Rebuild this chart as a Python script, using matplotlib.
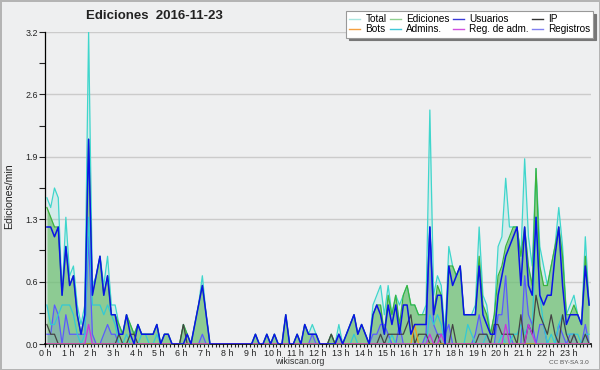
import numpy as np
import matplotlib
matplotlib.use('Agg')
import matplotlib.pyplot as plt
from matplotlib.ticker import MultipleLocator, FormatStrFormatter
from matplotlib.lines import Line2D

plt.rcParams['font.family'] = ['Liberation Sans', 'DejaVu Sans']

# 144 slots of 10 minutes, edits per minute
hours = ['%d h' % h for h in range(24)]
slots = np.arange(144)

total = [1.5,1.4,1.6,1.5,.5,1.3, .7,.8,.4,.2,.4,3.2, .6,.7,.9,.6,.9,.4, .4,.2,.1,.3,.2,.1,
         .2,.1,.1,.1,.1,.2, 0,.1,.1,0,0,0, .2,.1,0,.2,.4,.7, .3,0,0,0,0,0,
         0,0,0,0,0,0, 0,.1,0,0,.1,0, .1,0,0,.3,0,0, .1,0,.2,.1,.2,.1,
         0,0,0,.1,0,.2, 0,.1,.2,.3,.1,.2, .1,0,.4,.5,.6,.3, .6,.3,.5,.4,.5,.6,
         .4,.4,.3,.3,.4,2.4, .5,.7,.6,.1,1,.8, .7,.8,.3,.3,.3,.4, 1.2,.5,.4,.1,.3,1,
         1.1,1.7,1.2,1.2,1.2,.9, 1.9,1.1,.8,1.8,1,.8, .6,.8,1,1.4,1,.3, .4,.5,.3,.2,1.1,.4]
ediciones = [1.4,1.3,1.2,1.2,.5,1, .6,.7,.3,.1,.3,2.1, .5,.7,.9,.5,.7,.3, .3,.2,.1,.3,.2,.1,
             .2,.1,.1,.1,.1,.2, 0,.1,.1,0,0,0, .2,.1,0,.2,.4,.6, .3,0,0,0,0,0,
             0,0,0,0,0,0, 0,.1,0,0,.1,0, .1,0,0,.3,0,0, .1,0,.2,.1,.1,.1,
             0,0,0,.1,0,.1, 0,.1,.2,.3,.1,.2, .1,0,.3,.4,.4,.1, .5,.3,.5,.2,.5,.6,
             .4,.4,.3,.3,.3,1.2, .3,.6,.5,0,.8,.8, .7,.8,.3,.3,.3,.3, .9,.4,.3,.1,.3,.7,
             .8,1,1.1,1.2,1.2,.9, 1.2,.8,.6,1.8,.8,.6, .6,.8,1,1.2,.9,.3, .3,.4,.3,.2,.9,.4]
usuarios = [1.2,1.2,1.1,1.2,.5,1, .6,.7,.3,.1,.3,2.1, .5,.7,.9,.5,.7,.3, .3,.1,.1,.3,.1,0,
            .2,.1,.1,.1,.1,.2, 0,.1,.1,0,0,0, 0,.1,0,.2,.4,.6, .3,0,0,0,0,0,
            0,0,0,0,0,0, 0,.1,0,0,.1,0, .1,0,0,.3,0,0, .1,0,.2,.1,.1,.1,
            0,0,0,0,0,.1, 0,.1,.2,.3,.1,.2, .1,0,.3,.4,.3,.1, .4,.2,.4,.1,.4,.4,
            .1,.2,.2,.2,.2,1.2, .3,.5,.5,0,.8,.6, .7,.8,.3,.3,.3,.3, .8,.3,.2,.1,.1,.5,
            .7,.9,1,1.1,1.2,.6, 1.2,.6,.5,1.3,.5,.4, .5,.5,.9,1.2,.6,.2, .3,.3,.3,.2,.8,.4]
ip = [.2,.1,.1,0,0,0, 0,0,0,0,0,0, 0,0,0,0,0,0, 0,.1,0,0,.1,.1,
      0,0,0,0,0,0, 0,0,0,0,0,0, .2,0,0,0,0,0, 0,0,0,0,0,0,
      0,0,0,0,0,0, 0,0,0,0,0,0, 0,0,0,0,0,0, 0,0,0,0,0,0,
      0,0,0,.1,0,0, 0,0,0,0,0,0, 0,0,0,0,.1,0, .1,.1,.1,.1,.1,.2,
      .3,0,.1,.1,.1,0, 0,.1,0,0,0,.2, 0,0,0,0,0,0, .1,.1,.1,0,.2,.2,
      .1,.1,.1,.1,0,.3, 0,.2,.1,.5,.3,.2, .1,.3,.1,0,.3,.1, 0,.1,0,0,.1,0]
bots = [0]*96 + [0,.2,0,0,0,0] + [0]*42
admins = [.4,.2,.2,.3,.4,.4, .4,.3,.1,0,.1,1.3, .4,.4,.4,.3,.4,.3, .2,0,0,.1,0,0,
          0,.1,.1,0,0,.1, 0,0,0,0,0,0, 0,0,0,0,0,0, 0,0,0,0,0,0,
          0,0,0,0,0,0, 0,0,0,0,0,0, 0,0,0,0,0,0, 0,0,0,0,0,0,
          0,0,0,0,0,0, 0,0,0,.1,0,0, 0,0,0,0,0,0, 0,.1,0,0,0,0,
          0,0,0,0,0,.3, .2,.3,.2,0,0,0, 0,0,0,.2,.1,0, 0,0,.1,0,0,0,
          .1,0,0,.1,.1,.2, .1,.2,.1,1.3,.5,.2, 0,.1,0,.2,.3,.1, .1,.1,.1,0,.1,.1]
reg_adm = [0,0,0,0,0,0, 0,0,0,0,0,.2] + [0]*89 + [.1,0,0,.1,0] + [0]*15 + \
          [.2,0,0,0,0,0, .2,.1,0,0,0,0] + [0]*11
registros = [.1,.1,.4,.3,0,.3, .1,.1,.1,.1,.1,1.1, .1,0,0,.1,.2,.1, .1,0,0,0,0,0,
             0,0,0,0,0,0, 0,0,0,0,0,0, 0,0,0,0,0,.1, 0,0,0,0,0,0,
             0,0,0,0,0,0, 0,0,0,0,0,0, 0,0,0,0,0,0, 0,0,0,0,.1,0,
             0,0,0,0,0,.1, 0,0,0,0,0,0, 0,0,.1,.1,.2,.2, .1,0,0,.2,0,0,
             0,0,0,0,.1,1.2, .2,.1,.1,.1,.2,0, 0,0,0,0,0,.1, .3,.1,.1,0,0,.3,
             .3,.7,.1,0,0,0, .7,.3,.2,0,.2,.2, 0,0,0,.2,.1,0, .1,.1,0,0,.2,0]

x = (slots + 0.5) / 6.0
bg = '#eeeff0'

fig = plt.figure(figsize=(6, 3.7), dpi=100, facecolor=bg, edgecolor='#b4b4b4', linewidth=2)
ax = fig.add_axes([45/600, 26/370, 546/600, 312/370])
ax.set_facecolor(bg)

ax.fill_between(x, total, color='#3fd6cc', alpha=0.15, lw=0, zorder=2)
ax.fill_between(x, ediciones, color='#70be6f', alpha=0.7, lw=0, zorder=3)
ax.fill_between(x, registros, color='#6a6aff', alpha=0.2, lw=0, zorder=3)

ax.plot(x, total, color='#3fd6cc', lw=0.9, zorder=4)
ax.plot(x, ediciones, color='#3cb33c', lw=0.9, zorder=4)
ax.plot(x, registros, color='#5a5aff', lw=0.9, zorder=5)
ax.plot(x, admins, color='#33c9d6', lw=0.9, zorder=5)
ax.plot(x, ip, color='#444444', lw=0.9, zorder=5)
ax.plot(x, bots, color='#f0a020', lw=0.9, zorder=5)
ax.plot(x, reg_adm, color='#cc33dd', lw=0.9, zorder=5)
ax.plot(x, usuarios, color='#0a14e6', lw=1.1, zorder=6)

ax.set_xlim(0, 24)
ax.set_ylim(0, 3.2)
ax.set_yticks(np.linspace(0, 3.2, 6))
ax.yaxis.set_major_formatter(FormatStrFormatter('%.1f'))
ax.yaxis.set_minor_locator(MultipleLocator(0.32))
ax.set_xticks(range(24))
ax.set_xticklabels(hours)
ax.xaxis.set_minor_locator(MultipleLocator(1/6))
ax.grid(axis='y', color='#cbcbcb', lw=1)
ax.set_axisbelow(True)
for s in ['top', 'right']:
    ax.spines[s].set_visible(False)
ax.spines['left'].set_linewidth(0.9)
ax.spines['bottom'].set_linewidth(1.2)
ax.tick_params(axis='y', which='both', length=4, width=0.8, labelsize=6.4, pad=1, colors='#222222')
ax.tick_params(axis='x', which='both', length=2.5, width=0.8, labelsize=6.4, pad=0.8, colors='#222222')

fig.text(154/600, 1 - 16/370, 'Ediciones  2016-11-23', ha='center', va='center',
         fontsize=9.5, fontweight='bold', color='#222222')
fig.text(9/600, 1 - 196/370, 'Ediciones/min', rotation=90, ha='center', va='center',
         fontsize=7.6, color='#222222')
fig.text(300/600, 1 - 361/370, 'wikiscan.org', ha='center', va='center', fontsize=6.4, color='#333333')
fig.text(589/600, 1 - 362/370, 'CC BY-SA 3.0', ha='right', va='center', fontsize=4.6, color='#555555')

labels = ['Total', 'Bots', 'Ediciones', 'Admins.', 'Usuarios', 'Reg. de adm.', 'IP', 'Registros']
colors = ['#a8e6e0', '#f5a040', '#8fd08f', '#40c8d8', '#3a3ad8', '#d050e0', '#333333', '#8080f0']
handles = [Line2D([], [], color=c, lw=1) for c in colors]
leg = fig.legend(handles, labels, ncol=4, loc='upper right', bbox_to_anchor=(593/600, 1 - 11/370),
                 fontsize=7.2, frameon=True, fancybox=False, edgecolor='#999999', facecolor='white',
                 framealpha=1, shadow={'color': '#777777', 'alpha': 1}, handlelength=1.1,
                 handletextpad=0.5, columnspacing=0.35, labelspacing=0.05, borderpad=0.3,
                 borderaxespad=0)
leg.get_frame().set_linewidth(0.8)

fig.savefig('out.png', dpi=100, facecolor=bg, edgecolor=fig.get_edgecolor())
